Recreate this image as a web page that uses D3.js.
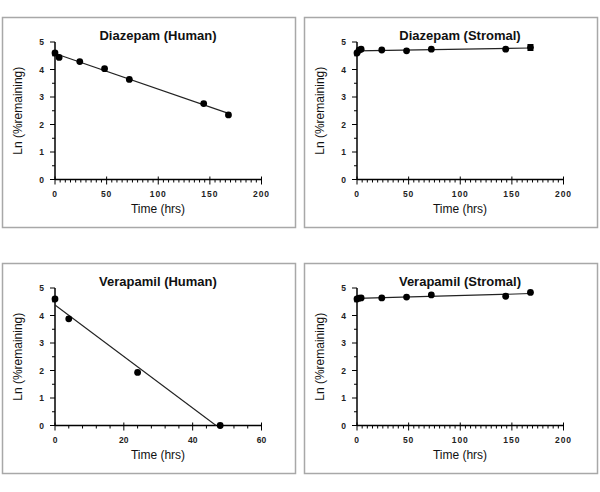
<!DOCTYPE html>
<html><head><meta charset="utf-8">
<script src="https://cdn.jsdelivr.net/npm/d3@7"></script>
<style>body{margin:0;background:#fff;}svg{display:block;}</style>
</head><body>
<svg id="c" width="600" height="492"></svg>
<script>
// ---- data ----
const titles = ["Diazepam (Human)", "Diazepam (Stromal)", "Verapamil (Human)", "Verapamil (Stromal)"];
const diazHumanTime = [0, 4, 24, 48, 72, 144, 168];
const diazHumanLn   = [4.6, 4.44, 4.29, 4.03, 3.64, 2.76, 2.35];
const diazStromalTime = [0, 2, 4, 24, 48, 72, 144, 168];
const diazStromalLn   = [4.6, 4.7, 4.74, 4.71, 4.68, 4.74, 4.74, 4.8];
const diazStromalErr  = [0, 0, 0, 0, 0, 0, 0, 0.1];
const verHumanTime = [0, 4, 24, 48];
const verHumanLn   = [4.6, 3.88, 1.93, 0];
const verStromalTime = [0, 2, 4, 24, 48, 72, 144, 168];
const verStromalLn   = [4.6, 4.63, 4.64, 4.64, 4.67, 4.75, 4.7, 4.84];
const xTicksLong = [0, 50, 100, 150, 200];
const xTicksShort = [0, 20, 40, 60];
const yTicks = [0, 1, 2, 3, 4, 5];
const xLabel = "Time (hrs)";
const yLabel = "Ln (%remaining)";

const panels = [
  {title: titles[0], t: diazHumanTime, v: diazHumanLn, err: null, xmax: 200, xt: xTicksLong, minor: 5, ox: 2, oy: 17},
  {title: titles[1], t: diazStromalTime, v: diazStromalLn, err: diazStromalErr, xmax: 200, xt: xTicksLong, minor: 5, ox: 304, oy: 17},
  {title: titles[2], t: verHumanTime, v: verHumanLn, err: null, xmax: 60, xt: xTicksShort, minor: 4, ox: 2, oy: 263},
  {title: titles[3], t: verStromalTime, v: verStromalLn, err: null, xmax: 200, xt: xTicksLong, minor: 5, ox: 304, oy: 263}
];

const svg = d3.select("#c");
const W = 293, H = 210;
const font = "Liberation Sans, Arial, sans-serif";

function regress(xs, ys) {
  const n = xs.length, mx = d3.mean(xs), my = d3.mean(ys);
  let sxy = 0, sxx = 0;
  for (let i = 0; i < n; i++) { sxy += (xs[i]-mx)*(ys[i]-my); sxx += (xs[i]-mx)**2; }
  const b = sxy / sxx; return {a: my - b*mx, b};
}

panels.forEach(p => {
  const g = svg.append("g").attr("transform", `translate(${p.ox},${p.oy})`);
  g.append("rect").attr("x", 0.5).attr("y", 0.5).attr("width", W).attr("height", H)
    .attr("fill", "#fff").attr("stroke", "#a8a8a8").attr("stroke-width", 1.5);

  const x = d3.scaleLinear().domain([0, p.xmax]).range([53, 259.5]);
  const y = d3.scaleLinear().domain([0, 5]).range([162.5, 25]);

  // y axis
  g.append("line").attr("x1", x(0)).attr("x2", x(0)).attr("y1", y(5)).attr("y2", y(0))
    .attr("stroke", "#000").attr("stroke-width", 1.5);
  d3.range(0, 5.01, 0.5).forEach(v => {
    const major = Math.abs(v - Math.round(v)) < 1e-6;
    g.append("line").attr("x1", x(0) - (major ? 5 : 3)).attr("x2", x(0))
      .attr("y1", y(v)).attr("y2", y(v)).attr("stroke", "#000").attr("stroke-width", 1);
  });
  g.selectAll(".yl").data(yTicks).enter().append("text")
    .attr("x", x(0) - 11).attr("y", d => y(d) + 3)
    .attr("text-anchor", "end").attr("font-family", font).attr("font-size", 8.5)
    .attr("font-weight", "bold").attr("fill", "#222").text(d => d);

  // x axis
  g.append("line").attr("x1", x(0)).attr("x2", x(p.xmax)).attr("y1", y(0)).attr("y2", y(0))
    .attr("stroke", "#000").attr("stroke-width", 1.5);
  d3.range(0, p.xmax + 0.01, p.minor).forEach(v => {
    const major = p.xt.includes(v);
    g.append("line").attr("x1", x(v)).attr("x2", x(v))
      .attr("y1", y(0) - (major ? 3 : 0)).attr("y2", y(0) + (major ? 5 : 3))
      .attr("stroke", "#000").attr("stroke-width", 1);
  });
  g.selectAll(".xl").data(p.xt).enter().append("text")
    .attr("x", d => x(d)).attr("y", y(0) + 17)
    .attr("text-anchor", "middle").attr("font-family", font).attr("font-size", 8.5)
    .attr("font-weight", "bold").attr("letter-spacing", p.xmax === 200 ? 1 : 0)
    .attr("fill", "#222").text(d => d);

  // labels
  g.append("text").attr("x", 156).attr("y", 22.5).attr("text-anchor", "middle")
    .attr("font-family", font).attr("font-size", 13).attr("font-weight", "bold")
    .attr("fill", "#111").text(p.title);
  g.append("text").attr("x", 156).attr("y", 196).attr("text-anchor", "middle")
    .attr("font-family", font).attr("font-size", 12).attr("fill", "#111").text(xLabel);
  g.append("text").attr("transform", `translate(20,${(y(0)+y(5))/2}) rotate(-90)`)
    .attr("text-anchor", "middle").attr("font-family", font).attr("font-size", 12)
    .attr("fill", "#111").text(yLabel);

  // fit line
  const r = regress(p.t, p.v);
  const tEnd = d3.max(p.t);
  let xEnd = tEnd;
  if (r.b < 0 && -r.a / r.b < tEnd) xEnd = -r.a / r.b;
  g.append("line").attr("x1", x(0)).attr("y1", y(r.a)).attr("x2", x(xEnd)).attr("y2", y(r.a + r.b*xEnd))
    .attr("stroke", "#222").attr("stroke-width", 1.1);

  // error bars
  if (p.err) {
    p.t.forEach((t, i) => {
      if (p.err[i] > 0) {
        g.append("line").attr("x1", x(t)).attr("x2", x(t))
          .attr("y1", y(p.v[i] - p.err[i])).attr("y2", y(p.v[i] + p.err[i]))
          .attr("stroke", "#000").attr("stroke-width", 1.5);
        [-1, 1].forEach(s => g.append("line").attr("x1", x(t) - 3).attr("x2", x(t) + 3)
          .attr("y1", y(p.v[i] + s*p.err[i])).attr("y2", y(p.v[i] + s*p.err[i]))
          .attr("stroke", "#000").attr("stroke-width", 1.5));
      }
    });
  }

  // markers
  g.selectAll(".pt").data(p.t.map((t, i) => [t, p.v[i]])).enter().append("circle")
    .attr("cx", d => x(d[0])).attr("cy", d => y(d[1])).attr("r", 3.4).attr("fill", "#000");
});
</script>
</body></html>
